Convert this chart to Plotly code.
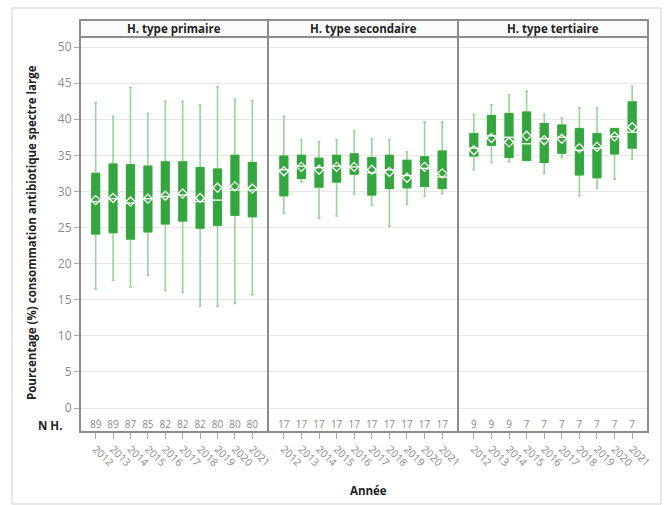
import plotly.graph_objects as go

years = [str(y) for y in range(2012, 2022)]
panel_titles = ["H. type primaire", "H. type secondaire", "H. type tertiaire"]

# H. type primaire
prim_min = [16.5, 17.7, 16.8, 18.4, 16.3, 16.0, 14.1, 14.1, 14.5, 15.7]
prim_q1 = [24.1, 24.3, 23.4, 24.4, 25.5, 25.9, 24.9, 25.3, 26.7, 26.5]
prim_med = [28.6, 29.0, 28.4, 29.0, 29.3, 29.5, 28.6, 28.8, 30.2, 30.2]
prim_mean = [28.8, 29.1, 28.6, 29.0, 29.4, 29.7, 29.1, 30.5, 30.7, 30.4]
prim_q3 = [32.5, 33.8, 33.7, 33.5, 34.1, 34.1, 33.3, 33.1, 35.0, 34.0]
prim_max = [42.3, 40.4, 44.4, 40.8, 42.5, 42.5, 42.0, 44.5, 42.8, 42.6]
prim_n = [89, 89, 87, 85, 82, 82, 82, 80, 80, 80]

# H. type secondaire
sec_min = [27.0, 31.3, 26.3, 26.6, 29.6, 28.1, 25.2, 28.2, 29.3, 29.7]
sec_q1 = [29.4, 31.8, 30.6, 31.3, 32.4, 29.5, 30.4, 30.5, 30.7, 30.4]
sec_med = [33.0, 33.5, 33.3, 33.5, 33.4, 32.6, 33.0, 32.2, 33.2, 32.0]
sec_mean = [32.8, 33.4, 33.0, 33.4, 33.4, 33.0, 32.7, 31.9, 33.4, 32.5]
sec_q3 = [34.9, 35.0, 34.6, 35.0, 35.2, 34.7, 35.0, 34.3, 34.8, 35.6]
sec_max = [40.4, 37.2, 36.9, 37.2, 38.4, 37.3, 37.2, 35.5, 39.6, 39.6]
sec_n = [17, 17, 17, 17, 17, 17, 17, 17, 17, 17]

# H. type tertiaire
ter_min = [33.0, 34.0, 34.1, 34.3, 32.5, 34.7, 29.4, 30.4, 31.7, 34.5]
ter_q1 = [34.9, 36.4, 34.7, 34.3, 34.0, 35.3, 32.3, 31.9, 35.2, 36.0]
ter_med = [36.0, 37.7, 37.5, 36.6, 37.3, 37.5, 35.7, 36.0, 37.6, 38.2]
ter_mean = [35.7, 37.4, 36.8, 37.7, 37.1, 37.3, 36.0, 36.2, 37.6, 38.9]
ter_q3 = [38.0, 40.5, 40.8, 41.0, 39.4, 39.2, 38.7, 38.0, 38.7, 42.4]
ter_max = [40.7, 42.0, 43.4, 43.9, 40.7, 40.2, 41.6, 41.6, 38.7, 44.6]
ter_n = [9, 9, 9, 7, 7, 7, 7, 7, 7, 7]

y_ticks = [0, 5, 10, 15, 20, 25, 30, 35, 40, 45, 50]

panels = [
    (prim_min, prim_q1, prim_med, prim_mean, prim_q3, prim_max, prim_n),
    (sec_min, sec_q1, sec_med, sec_mean, sec_q3, sec_max, sec_n),
    (ter_min, ter_q1, ter_med, ter_mean, ter_q3, ter_max, ter_n),
]

DARK = "#35a63f"
LIGHT = "#96d696"
GRID = "#e6e6e6"
FRAME = "#8c8c8c"
TXT_GRAY = "#8a8a8a"
FONT = "Open Sans"

W, H = 668, 505
ml, mr, mt, mb = 80, 20, 20, 73
pw = W - ml - mr
ph = H - mt - mb
header_h = 17
y_top = 1 - header_h / ph
domains = [[0, 188 / pw], [188 / pw, 378 / pw], [378 / pw, 1.0]]

fig = go.Figure()
n_label_y = -2.35

for i, (mn, q1, med, mean, q3, mx, n) in enumerate(panels):
    xa = "x" if i == 0 else f"x{i+1}"
    ya = "y" if i == 0 else f"y{i+1}"
    # whiskers
    fig.add_trace(go.Box(
        x=years, q1=q1, median=med, q3=q3, lowerfence=mn, upperfence=mx,
        xaxis=xa, yaxis=ya, line=dict(color=LIGHT, width=1.6),
        fillcolor="rgba(0,0,0,0)", whiskerwidth=0.35, width=0.45,
        boxpoints=False, hoverinfo="skip", showlegend=False))
    # box body
    fig.add_trace(go.Box(
        x=years, q1=q1, median=q1, q3=q3, lowerfence=q1, upperfence=q3,
        xaxis=xa, yaxis=ya, line=dict(color=DARK, width=1),
        fillcolor=DARK, whiskerwidth=0, width=0.45,
        boxpoints=False, showlegend=False))
    # median
    fig.add_trace(go.Scatter(
        x=years, y=med, xaxis=xa, yaxis=ya, mode="markers",
        marker=dict(symbol="line-ew", size=9, line=dict(color="white", width=1.3)),
        showlegend=False))
    # mean
    fig.add_trace(go.Scatter(
        x=years, y=mean, xaxis=xa, yaxis=ya, mode="markers",
        marker=dict(symbol="diamond-open", size=7, color="white", line=dict(color="white", width=1.3)),
        showlegend=False))
    # N row
    fig.add_trace(go.Scatter(
        x=years, y=[n_label_y] * len(years), xaxis=xa, yaxis=ya, mode="text",
        text=[str(v) for v in n], textfont=dict(family=FONT, size=10, color=TXT_GRAY),
        showlegend=False, hoverinfo="skip"))

layout = dict(
    width=W, height=H,
    margin=dict(l=ml, r=mr, t=mt, b=mb),
    paper_bgcolor="white", plot_bgcolor="white",
    boxmode="overlay",
    font=dict(family=FONT, size=10, color=TXT_GRAY),
    showlegend=False,
)
for i in range(3):
    xk = "xaxis" if i == 0 else f"xaxis{i+1}"
    yk = "yaxis" if i == 0 else f"yaxis{i+1}"
    ya = "y" if i == 0 else f"y{i+1}"
    xa = "x" if i == 0 else f"x{i+1}"
    layout[xk] = dict(
        domain=domains[i], anchor=ya, type="category", range=[-0.9, 9.9],
        tickangle=45, ticks="outside", ticklen=6, tickcolor="#aaaaaa",
        tickfont=dict(family=FONT, size=10.5, color=TXT_GRAY),
        showgrid=False, zeroline=False, showline=False)
    layout[yk] = dict(
        domain=[0, y_top], anchor=xa, range=[-3.32, 51.39],
        tickvals=y_ticks, showgrid=True, gridcolor=GRID, gridwidth=1,
        zeroline=False, showline=False,
        showticklabels=(i == 0), ticks="outside" if i == 0 else "",
        ticklen=5, tickcolor="#aaaaaa",
        tickfont=dict(family=FONT, size=12, color=TXT_GRAY))
    if i > 0:
        layout[yk]["matches"] = "y"

shapes = []
annotations = []
for i, d in enumerate(domains):
    shapes.append(dict(type="rect", xref="paper", yref="paper", x0=d[0], x1=d[1],
                       y0=y_top, y1=1, fillcolor="#fbfbfb", line=dict(color=FRAME, width=1.5), layer="below"))
    shapes.append(dict(type="rect", xref="paper", yref="paper", x0=d[0], x1=d[1],
                       y0=0, y1=1, line=dict(color=FRAME, width=2)))
    shapes.append(dict(type="line", xref="paper", yref="paper", x0=d[0], x1=d[1],
                       y0=y_top, y1=y_top, line=dict(color=FRAME, width=2)))
    annotations.append(dict(text=panel_titles[i], xref="paper", yref="paper",
                            x=(d[0] + d[1]) / 2, y=(y_top + 1) / 2, showarrow=False,
                            xanchor="center", yanchor="middle",
                            font=dict(family=FONT, size=11.5, color="#222222", weight="bold")))

# outer light frame around the whole graphic
shapes.append(dict(type="rect", xref="paper", yref="paper",
                   x0=(12 - ml) / pw, x1=(661 - ml) / pw,
                   y0=(H - mb - 504) / ph, y1=(H - mb - 8) / ph,
                   line=dict(color="#cfcfcf", width=1), layer="below"))

annotations.append(dict(text="N H.", xref="paper", yref="y", x=(64 - ml) / pw, y=n_label_y,
                        xanchor="right", yanchor="middle", showarrow=False,
                        font=dict(family=FONT, size=11.5, color="#222222", weight="bold")))
annotations.append(dict(text="Pourcentage (%) consommation antibiotique spectre large",
                        xref="paper", yref="paper", x=(31 - ml) / pw, y=(H - mb - 233) / ph,
                        textangle=-90, showarrow=False, xanchor="center", yanchor="middle",
                        font=dict(family=FONT, size=11.5, color="#222222", weight="bold")))
annotations.append(dict(text="Année", xref="paper", yref="paper", x=(368 - ml) / pw,
                        y=(H - mb - 490) / ph, showarrow=False, xanchor="center", yanchor="middle",
                        font=dict(family=FONT, size=11.5, color="#222222", weight="bold")))

layout["shapes"] = shapes
layout["annotations"] = annotations
fig.update_layout(**layout)
fig.write_html("out.html")
